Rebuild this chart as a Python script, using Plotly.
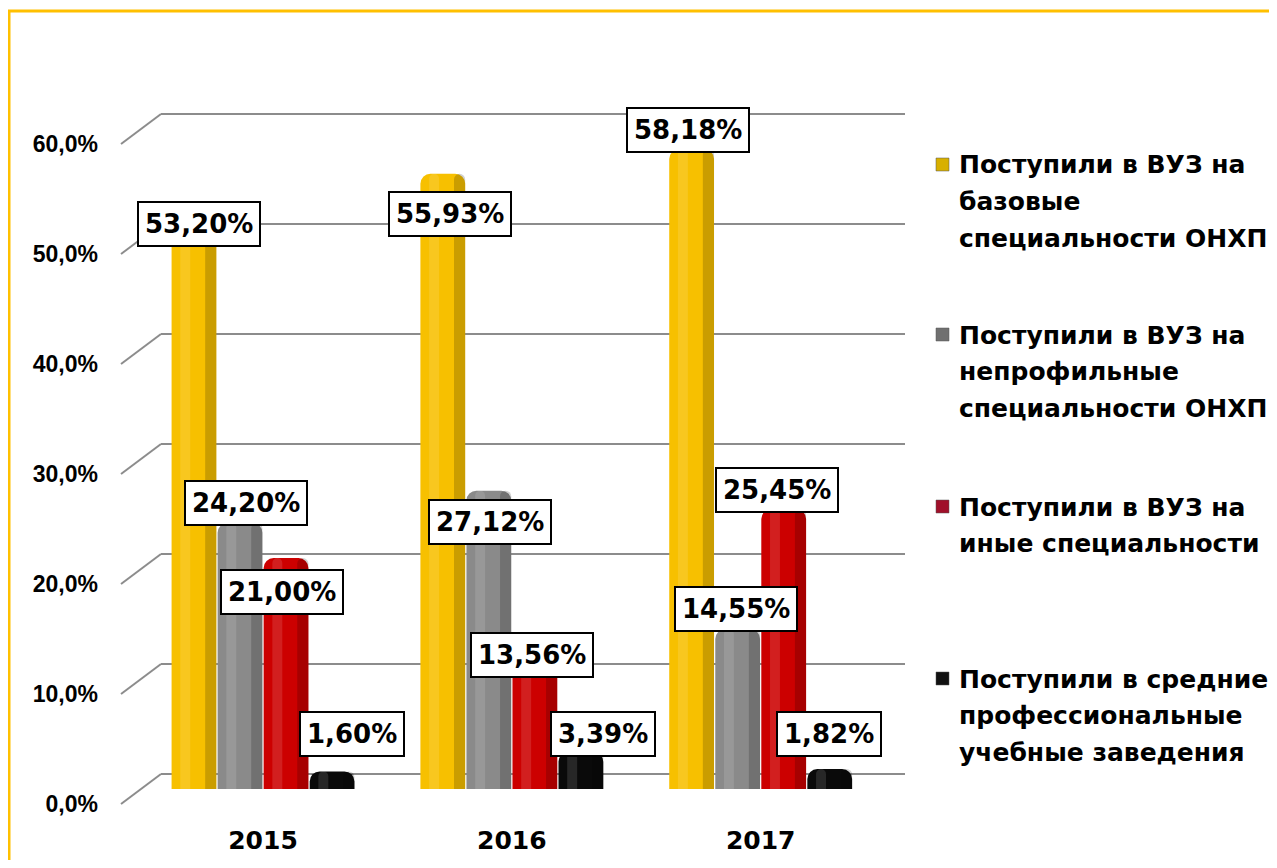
import plotly.graph_objects as go

# ---------------- data ----------------
years = ["2015", "2016", "2017"]
basic_onhp = [53.20, 55.93, 58.18]
nonprofile_onhp = [24.20, 27.12, 14.55]
other_specs = [21.00, 13.56, 25.45]
secondary_prof = [1.60, 3.39, 1.82]
y_tick_values = [0, 10, 20, 30, 40, 50, 60]

series_names = [
    "Поступили в ВУЗ на базовые специальности ОНХП",
    "Поступили в ВУЗ на непрофильные специальности ОНХП",
    "Поступили в ВУЗ на иные специальности",
    "Поступили в средние профессиональные учебные заведения",
]
legend_lines = [
    ["Поступили в ВУЗ на", "базовые", "специальности ОНХП"],
    ["Поступили в ВУЗ на", "непрофильные", "специальности ОНХП"],
    ["Поступили в ВУЗ на", "иные специальности"],
    ["Поступили в средние", "профессиональные", "учебные заведения"],
]

# ---------------- styling ----------------
series_values = [basic_onhp, nonprofile_onhp, other_specs, secondary_prof]
colors = ["#F7C000", "#8A8A8A", "#CC0000", "#0A0A0A"]
legend_colors = ["#D8B000", "#707070", "#A0102A", "#111111"]
# label offsets (pixels) relative to each bar's top: (dx, dy up)
label_shifts = [
    [(5, -20), (7, -40), (-4, 19)],
    [(6, 20), (1, -31), (-2, 20)],
    [(-4, -34), (-3, -15), (-7, 19)],
    [(20, 37), (22, 18), (-1, 35)],
]

OX, OY = 8, 8           # body margin of the page
W, H = 1261, 852
PL, PR, PT, PB = 161, 905, 60, 823   # plot area in page pixels
PX_PER_UNIT = 11.0
BAR_ZERO, GRID_ZERO = 789, 774


def px_to_paper_x(px):
    return (px - PL) / (PR - PL)


def px_to_paper_y(py):
    return (PB - py) / (PB - PT)


def axis_range(zero_px):
    return [(zero_px - PB) / PX_PER_UNIT, (zero_px - PT) / PX_PER_UNIT]


def pct(v, nd):
    return (f"{v:.{nd}f}%").replace(".", ",")


STEP = 0.185
BW = 0.18
BOLD = "DejaVu Sans"

fig = go.Figure()
for k, (name, vals, col) in enumerate(zip(series_names, series_values, colors)):
    c = (k - 1.5) * STEP
    fig.add_trace(go.Bar(
        x=years, y=vals, name=name, width=BW, offset=c - BW / 2,
        marker=dict(color=col, line=dict(width=0)), showlegend=False,
        yaxis="y",
    ))
    # cylinder shading: dark right edge, light highlight
    fig.add_trace(go.Bar(
        x=years, y=vals, width=0.045, offset=c + BW / 2 - 0.045,
        marker=dict(color="rgba(0,0,0,0.18)", line=dict(width=0)),
        showlegend=False, hoverinfo="skip", yaxis="y",
    ))
    fig.add_trace(go.Bar(
        x=years, y=vals, width=0.04, offset=c - 0.055,
        marker=dict(color="rgba(255,255,255,0.12)", line=dict(width=0)),
        showlegend=False, hoverinfo="skip", yaxis="y",
    ))

# data labels
annotations = []
for k, vals in enumerate(series_values):
    c = (k - 1.5) * STEP
    for i, v in enumerate(vals):
        dx, dy = label_shifts[k][i]
        annotations.append(dict(
            x=i + c, y=v, xref="x", yref="y", text=pct(v, 2),
            showarrow=False, xshift=dx, yshift=dy,
            xanchor="center", yanchor="middle",
            font=dict(family=BOLD, size=26, color="black", weight="bold"),
            bgcolor="white", bordercolor="black", borderwidth=2, borderpad=6,
        ))

# legend (manual, to match the multi-line layout)
legend_tops = [165, 335, 507, 679]
LINE_GAP = 36.5
shapes = []
for k, lines in enumerate(legend_lines):
    y0 = legend_tops[k]
    for j, line in enumerate(lines):
        annotations.append(dict(
            x=px_to_paper_x(957), y=px_to_paper_y(y0 + j * LINE_GAP),
            xref="paper", yref="paper", text=line, showarrow=False,
            xanchor="left", yanchor="middle",
            font=dict(family=BOLD, size=25, color="black", weight="bold"),
        ))
    shapes.append(dict(
        type="rect", xref="paper", yref="paper",
        x0=px_to_paper_x(936), x1=px_to_paper_x(949),
        y0=px_to_paper_y(y0 - 7), y1=px_to_paper_y(y0 + 6),
        fillcolor=legend_colors[k], line=dict(width=0.5, color="#555"),
    ))

# diagonal "floor" connectors from front tick to back wall gridline
for v in y_tick_values:
    shapes.append(dict(
        type="line", xref="paper", xsizemode="pixel", xanchor=0, x0=-40, x1=0,
        yref="y2", ysizemode="pixel", yanchor=v, y0=-30, y1=0,
        line=dict(color="#8C8C8C", width=2),
    ))

# yellow frame
shapes.append(dict(type="line", xref="paper", yref="paper",
                   x0=px_to_paper_x(9), x1=px_to_paper_x(9),
                   y0=px_to_paper_y(10), y1=px_to_paper_y(880),
                   line=dict(color="#FFC000", width=3)))
shapes.append(dict(type="line", xref="paper", yref="paper",
                   x0=px_to_paper_x(8), x1=px_to_paper_x(1290),
                   y0=px_to_paper_y(11), y1=px_to_paper_y(11),
                   line=dict(color="#FFC000", width=3)))

fig.update_layout(
    width=W, height=H,
    margin=dict(l=PL - OX, r=(OX + W) - PR, t=PT - OY, b=(OY + H) - PB),
    paper_bgcolor="white", plot_bgcolor="rgba(0,0,0,0)",
    barmode="overlay", barcornerradius=10,
    separators=", ",
    xaxis=dict(type="category", range=[-0.41, 2.58], showgrid=False,
               zeroline=False, showline=False, ticks="", automargin=False,
               tickfont=dict(family=BOLD, size=25, color="black", weight="bold"),
               ticklabelstandoff=0),
    yaxis=dict(range=axis_range(BAR_ZERO), showgrid=False, zeroline=False,
               showticklabels=False, ticks="", automargin=False),
    yaxis2=dict(range=axis_range(GRID_ZERO), overlaying="y", side="left",
                anchor="x", showgrid=True, automargin=False,
                gridcolor="#8C8C8C", gridwidth=2, tickvals=y_tick_values,
                ticktext=[pct(v, 1) for v in y_tick_values],
                zeroline=False, showticklabels=True, ticks="",
                ticklabelstandoff=62, ticklabelshift=30,
                tickfont=dict(family="Liberation Sans", size=23, color="black", weight="bold"),
                layer="below traces"),
    annotations=annotations, shapes=shapes,
    showlegend=False,
)

fig.write_html("out.html")
